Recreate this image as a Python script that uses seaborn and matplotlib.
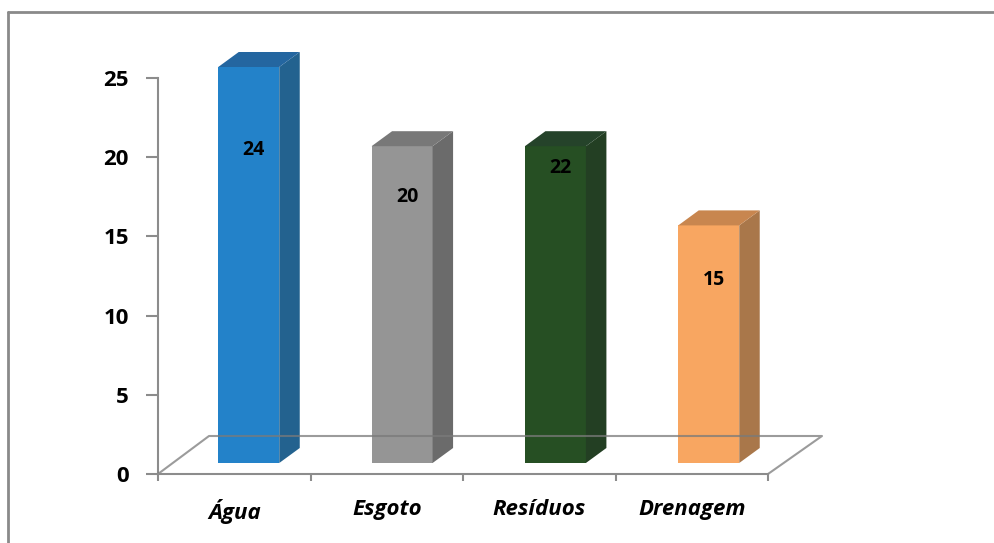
import numpy as np
import pandas as pd
import matplotlib
matplotlib.use("Agg")
import matplotlib.pyplot as plt
import seaborn as sns
from matplotlib.patches import Polygon
from matplotlib.lines import Line2D

# ---- data ----
categories = ["Água", "Esgoto", "Resíduos", "Drenagem"]
bar_heights = [25, 20, 20, 15]
label_texts = ["24", "20", "22", "15"]
yticks = [0, 5, 10, 15, 20, 25]

# ---- styles ----
front_colors = ["#2382C9", "#959595", "#264F23", "#F8A661"]
top_colors = ["#2466A0", "#787878", "#25432A", "#C8864F"]
side_colors = ["#23628F", "#6B6B6B", "#233F23", "#A9774A"]
label_frac = [0.79, 0.84, 0.93, 0.77]   # label position within the bar (layout)
axis_gray = "#8C8C8C"

sns.set_theme(style="white")
plt.rcParams['font.family'] = ['Open Sans', 'DejaVu Sans']

W, H = 995, 543
fig = plt.figure(figsize=(W / 100, H / 100), dpi=100)
ax = fig.add_axes([158 / W, (H - 474) / H, 610 / W, 396 / H])

df = pd.DataFrame({"cat": categories, "val": bar_heights})
sns.barplot(data=df, x="cat", y="val", hue="cat", palette=front_colors,
            width=0.4, saturation=1, ax=ax, legend=False, zorder=3)
ax.set_xlim(-0.5, len(categories) - 0.5)
ax.set_ylim(0, 25)

# pixel -> data conversion
p0 = ax.transData.transform((0, 0))
p1 = ax.transData.transform((1, 1))
px_x = 1.0 / (p1[0] - p0[0])
px_y = 1.0 / (p1[1] - p0[1])

# depth geometry (pixels)
depth_dx, depth_dy = 20.5, 15.0

for i, p in enumerate(ax.patches):
    ox = (14.5 + 0.83 * i) * px_x
    oy = 11.0 * px_y
    x0 = p.get_x() + ox
    w = p.get_width()
    h = p.get_height()
    p.set_x(x0)
    p.set_y(oy)
    p.set_clip_on(False)
    p.set_edgecolor("none")
    ddx = depth_dx * px_x
    ddy = depth_dy * px_y
    top = oy + h
    side = Polygon([(x0 + w, oy), (x0 + w + ddx, oy + ddy),
                    (x0 + w + ddx, top + ddy), (x0 + w, top)],
                   closed=True, facecolor=side_colors[i], edgecolor="none",
                   zorder=3, clip_on=False)
    topf = Polygon([(x0, top), (x0 + ddx, top + ddy), (x0 + w + ddx, top + ddy),
                    (x0 + w, top)], closed=True, facecolor=top_colors[i],
                   edgecolor="none", zorder=3, clip_on=False)
    ax.add_patch(side)
    ax.add_patch(topf)
    ax.text(x0 + w / 2 + 5 * px_x, oy + h * label_frac[i], label_texts[i],
            ha="center", va="center", fontsize=14, fontweight="bold",
            color="black", zorder=6)

# floor parallelogram
xl, xr = -0.5, len(categories) - 0.5
fl_back = 38 * px_y
floor_x = [xl, xl + 51 * px_x, xr + 54 * px_x, xr]
floor_y = [0, fl_back, fl_back, 0]
ax.add_line(Line2D(floor_x, floor_y, color="#7A7A7A", lw=1.5, alpha=0.75,
                   zorder=5, clip_on=False))

# axes styling
for s in ["top", "right"]:
    ax.spines[s].set_visible(False)
for s in ["left", "bottom"]:
    ax.spines[s].set_color(axis_gray)
    ax.spines[s].set_linewidth(1.5)
ax.spines["bottom"].set_zorder(5)

ax.set_yticks(yticks)
ax.set_yticklabels([str(v) for v in yticks], fontsize=16, fontweight="bold",
                   color="black")
ax.tick_params(axis="y", length=9, width=1.5, color=axis_gray, pad=12,
               left=True)
ax.set_xticks(range(len(categories)))
ax.set_xticklabels(categories, fontsize=16, fontweight="bold", style="italic",
                   color="black")
ax.set_xticks(np.arange(-0.5, len(categories)), minor=True)
ax.tick_params(axis="x", which="major", length=0, pad=18, bottom=True)
ax.tick_params(axis="x", which="minor", length=5, width=1.5, color=axis_gray,
               bottom=True)
ax.set_xlabel("")
ax.set_ylabel("")

# outer chart frame (cropped)
fig.add_artist(Line2D([8 / W, 8 / W], [0, 1 - 12 / H], transform=fig.transFigure,
                      color="#8A8A8A", lw=2))
fig.add_artist(Line2D([8 / W, 1], [1 - 12 / H, 1 - 12 / H],
                      transform=fig.transFigure, color="#8A8A8A", lw=2))

fig.savefig("out.png", dpi=100)
